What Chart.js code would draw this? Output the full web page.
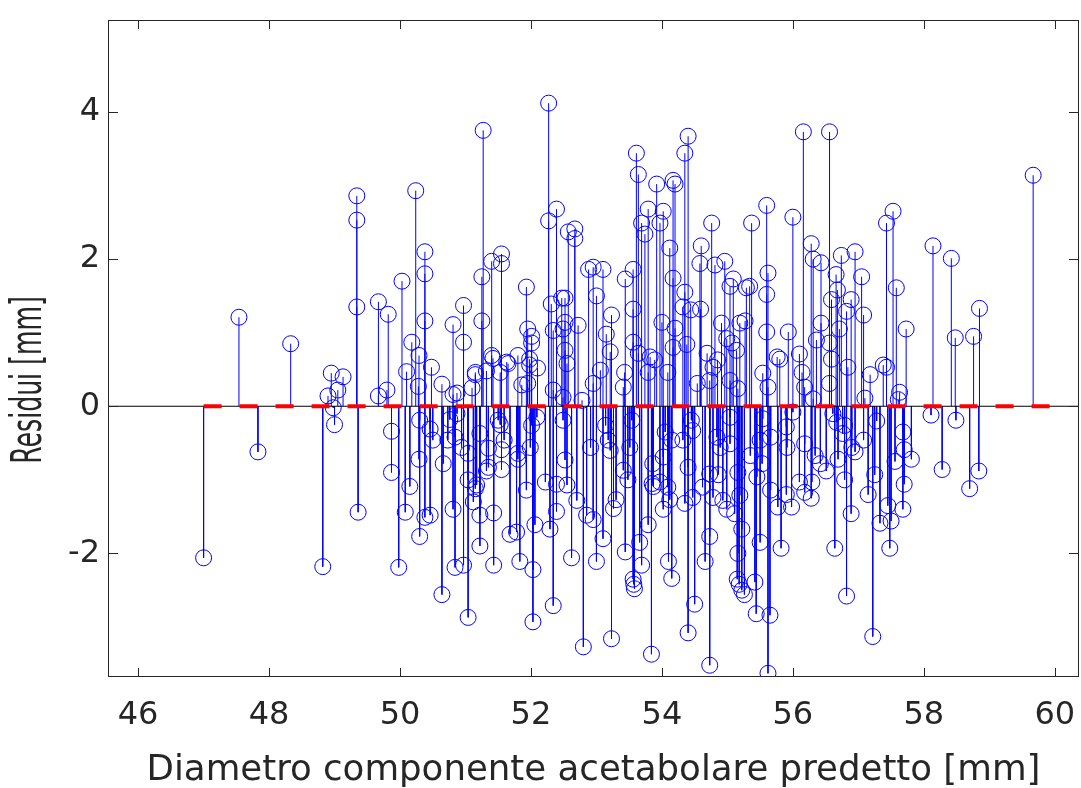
<!DOCTYPE html>
<html><head><meta charset="utf-8">
<script src="https://cdn.jsdelivr.net/npm/chart.js@4/dist/chart.umd.min.js"></script>
<style>html,body{margin:0;padding:0;background:#fff;}#wrap{width:1081px;height:788px;}</style>
</head><body><div id="wrap"><canvas id="c" width="1081" height="788"></canvas></div>
<script>
// ---- data ----
const predictedA = [47.00,47.54,47.83,48.33,48.82,48.90,48.95,48.98,49.00,49.05,49.13,49.34,49.34,49.34,49.36,49.67,49.67,49.80,49.82,49.87,49.87,49.98];
const residualsA = [-2.06,1.21,-0.62,0.85,-2.18,0.14,0.45,-0.02,-0.25,0.22,0.40,2.86,2.53,1.35,-1.44,1.42,0.14,0.22,1.25,-0.34,-0.90,-2.19];
const predictedB = [50.03,50.08,50.10,50.15,50.18,50.24,50.28,50.29,50.30,50.29,50.30,50.38,50.38,50.38,50.38,50.46,50.48,50.46,50.50,50.64,50.64,50.66,50.76,50.73,50.81,50.81,50.81,50.84,50.87,50.87,50.84,50.94,50.97,50.97,50.97];
const residualsB = [1.70,-1.44,0.47,-1.09,0.87,2.93,0.27,0.69,-0.19,-0.72,-1.77,2.10,1.80,1.16,-1.51,-1.48,0.53,-0.31,-0.46,-2.56,0.30,-0.78,-0.18,-0.46,1.11,0.16,-1.40,-2.19,0.18,-0.10,-0.42,-0.56,1.37,0.87,-2.16];
const predictedC = [51.04,51.15,51.10,51.04,51.04,51.15,51.12,51.22,51.22,51.27,51.25,51.25,51.32,51.40,51.40,51.55,51.55,51.43,51.43,51.32,51.55,51.55,51.53,51.68,51.65,51.80,51.78,51.83,51.80,51.93,51.95,51.98,51.93,51.15,51.42,51.53,51.63,51.86,51.22,51.35,51.50,51.59,51.80,51.99,51.35,51.17,51.98,51.95];
const residualsC = [-2.87,0.43,0.25,-0.64,-1.00,-1.12,-1.30,-1.48,-1.90,3.75,1.76,1.16,0.48,0.69,1.97,2.07,1.94,-1.45,-2.16,-0.88,-0.59,-0.86,-0.25,-1.74,0.58,0.69,-1.71,-2.11,-0.72,1.62,1.05,0.64,-1.14,0.46,0.65,0.46,0.60,0.29,-0.37,-0.57,-0.19,-0.46,-0.64,-0.56,-0.83,-1.07,0.56,0.31];
const predictedD = [52.01,52.03,52.03,52.06,52.27,52.27,52.39,52.31,52.34,52.29,52.39,52.39,52.47,52.52,52.49,52.57,52.01,52.10,52.34,52.49,52.52,52.55,52.34,52.52,52.09,52.01,52.49,52.52,52.22,52.55,52.67,52.67,52.62,52.80,52.88,52.95,52.95,52.72,52.95,52.78,52.91,52.85,52.70];
const residualsD = [0.95,-2.22,-2.93,-1.61,4.12,2.52,2.68,1.39,-2.71,-1.67,-1.43,-1.06,1.47,1.47,1.05,2.37,0.86,0.52,0.22,0.12,0.76,0.58,1.03,1.14,-0.15,-0.26,-0.19,-0.73,-1.03,-1.07,2.41,2.28,-2.06,-3.27,1.86,1.89,-1.54,1.10,0.31,0.08,-0.56,-1.48,-1.28];
const predictedE = [53.10,53.00,53.00,53.10,53.23,53.23,53.15,53.30,53.44,53.44,53.56,53.56,53.61,53.64,53.69,53.79,53.74,53.92,53.97,53.56,53.57,53.58,53.66,53.69,53.84,53.79,53.87,53.97,53.21,53.56,53.64,53.82,53.89,53.43,53.06,53.41,53.79,53.14,53.54,53.18,53.51,53.21,53.86,53.41,53.48,53.85,53.26];
const residualsE = [1.86,1.50,-2.11,-1.80,-3.16,1.24,0.98,-1.27,-1.98,1.73,1.86,1.32,3.44,3.15,2.49,2.68,2.34,3.02,2.49,-2.35,-2.42,-2.48,-1.85,-2.16,-3.37,-1.61,-1.09,-1.03,0.74,0.87,0.72,0.67,0.63,0.46,0.49,0.26,0.46,-0.26,-0.19,-0.46,-0.56,-0.60,-0.78,-0.87,-1.00,-1.05,-1.39];
const predictedF = [54.02,54.12,54.17,54.20,54.10,54.15,54.12,54.02,54.17,54.09,54.00,54.05,54.15,54.02,54.09,54.17,54.20,54.40,54.35,54.35,54.32,54.59,54.38,54.40,54.50,54.73,54.76,54.60,54.58,54.81,54.96,54.91,54.73,54.66,54.99,54.86,54.44,54.99,54.69,54.85,54.78,54.54,54.73,54.45,54.47,54.32,54.84,54.89,54.40,54.73,54.62,54.47,54.78,54.93,54.35];
const residualsF = [2.65,2.15,3.07,3.02,-2.11,-2.34,-1.27,-1.40,0.80,0.46,1.14,-0.35,-0.46,-0.69,-1.10,1.74,1.06,3.67,3.44,1.55,1.35,1.32,0.84,-3.08,-2.69,-3.52,2.49,2.18,1.94,1.92,1.97,1.13,-1.77,-2.11,-1.40,-0.93,1.31,0.92,0.72,0.63,0.53,0.31,0.35,-0.19,-0.33,-0.46,-0.42,-0.56,-0.83,-0.92,-1.10,-1.24,-1.24,-1.28,-1.32];
const predictedG = [55.09,55.04,55.29,55.34,55.19,55.27,55.37,55.60,55.62,55.60,55.60,55.80,55.93,55.15,55.18,55.22,55.26,55.44,55.62,55.65,55.50,55.42,55.82,55.77,55.22,55.11,55.07,55.14,55.04,55.16,55.54,55.76,55.62,55.04,55.04,55.35,55.50,55.66,55.54,55.53,55.45,55.16,55.19,55.66,55.98,55.90,55.90,55.91,55.16];
const residualsG = [1.73,1.63,1.61,1.63,1.13,1.16,2.49,2.73,1.81,1.52,1.01,0.64,1.01,-2.35,-2.42,-2.50,-2.56,-2.82,-3.63,-2.84,-1.85,-2.39,-1.93,-1.37,-1.67,-1.46,0.86,0.76,0.35,0.24,0.45,0.67,0.26,-0.15,-0.51,-0.67,-0.46,-0.42,-0.17,-0.78,-0.96,-0.90,-1.21,-1.14,-1.37,-1.20,-0.28,-0.56,-2.00];
const predictedH = [56.16,56.56,56.00,56.28,56.31,56.43,56.74,56.95,56.66,56.68,56.59,56.89,56.82,56.43,56.71,56.36,56.10,56.59,56.84,56.64,56.82,56.89,56.51,56.28,56.18,56.10,56.79,56.69,56.95,56.56,56.14,56.18,56.56,56.31,56.00,56.61,56.67,56.79,56.76,56.18,56.90,56.34,56.42,56.29];
const residualsH = [3.73,3.73,2.57,2.21,2.00,1.95,2.05,2.10,1.79,1.58,1.45,1.45,1.29,1.13,1.05,0.90,0.71,0.64,0.53,-1.93,-2.58,-1.46,-0.88,-1.25,-1.17,-1.03,-1.00,-0.72,-0.62,0.86,0.46,0.26,0.31,0.10,-0.08,-0.10,-0.22,-0.26,-0.37,-0.51,-0.56,-0.67,-0.78,-1.03];
const predictedI = [57.05,57.08,57.43,57.53,57.58,57.43,57.18,57.10,57.28,57.22,57.15,57.25,57.33,57.48,57.50,57.45,57.08,57.38,57.73,57.63,57.61,57.68,57.70,57.81,57.56,57.70,57.68,58.14,58.11,58.28,58.42,58.48,58.49,58.70,58.76,58.85,58.84,59.67];
const residualsI = [1.76,1.24,2.49,2.65,1.61,0.53,0.43,0.11,-0.20,-3.13,-1.20,-0.93,-1.59,-1.93,-1.56,-1.35,-0.46,0.56,1.05,0.19,0.09,-0.35,-0.59,-0.72,-0.75,-1.06,-1.40,2.18,-0.12,-0.86,2.01,0.93,-0.19,-1.12,0.95,1.33,-0.88,3.14];

const xTickValues = [46,48,50,52,54,56,58,60];
const yTickValues = [-2,0,2,4];
const xLimits = [45.54,60.37];
const yLimits = [-3.68,5.25];
const referenceLineX = [47,60];   // red dashed zero line
const xLabel = 'Diametro componente acetabolare predetto [mm]';
const yLabel = 'Residui [mm]';

// ---- build datasets ----
const predicted = [].concat(predictedA,predictedB,predictedC,predictedD,predictedE,predictedF,predictedG,predictedH,predictedI);
const residuals = [].concat(residualsA,residualsB,residualsC,residualsD,residualsE,residualsF,residualsG,residualsH,residualsI);
const markers = predicted.map((x,i)=>({x:x,y:residuals[i]}));
const stems = [];
predicted.forEach((x,i)=>{ stems.push({x:x,y:0},{x:x,y:residuals[i]},{x:x,y:null}); });

const AX = '#262626';
const FONT = 'DejaVu Sans';

const frame = {
  id:'frame',
  afterDraw(chart){
    const {ctx, chartArea:a, scales:{x,y}} = chart;
    ctx.save();
    ctx.strokeStyle = AX; ctx.lineWidth = 1;
    ctx.strokeRect(a.left+0.5, a.top+0.5, a.right-a.left-1, a.bottom-a.top-1);
    ctx.beginPath();
    x.ticks.forEach(t=>{const p=Math.round(x.getPixelForValue(t.value))+0.5;
      ctx.moveTo(p,a.bottom); ctx.lineTo(p,a.bottom-9); ctx.moveTo(p,a.top); ctx.lineTo(p,a.top+9);});
    y.ticks.forEach(t=>{const p=Math.round(y.getPixelForValue(t.value))+0.5;
      ctx.moveTo(a.left,p); ctx.lineTo(a.left+10,p); ctx.moveTo(a.right,p); ctx.lineTo(a.right-10,p);});
    ctx.stroke();
    // y-axis label (compressed along its direction, as in the reference)
    ctx.fillStyle = AX;
    ctx.font = '35px "' + FONT + '"';
    ctx.textAlign = 'center'; ctx.textBaseline = 'middle';
    ctx.translate(30, 380);
    ctx.rotate(-Math.PI/2);
    ctx.scale(0.72, 1.2);
    ctx.fillText(yLabel, 0, 0);
    ctx.restore();
  }
};

new Chart(document.getElementById('c'), {
  type:'scatter',
  data:{datasets:[
    {label:'ref', type:'line', data:referenceLineX.map(v=>({x:v,y:0})), borderColor:'#ff0000', borderWidth:4,
     borderDash:[18,18], pointRadius:0, fill:false, order:0},
    {label:'baseline', type:'line', data:xLimits.map(v=>({x:v,y:0})), borderColor:'#000000', borderWidth:1,
     pointRadius:0, fill:false, order:1},
    {label:'markers', data:markers, showLine:false, pointRadius:8, pointHoverRadius:8, pointBorderWidth:1,
     pointBorderColor:'#0000ff', pointBackgroundColor:'rgba(0,0,0,0)', order:2},
    {label:'stems', type:'line', data:stems, showLine:true, spanGaps:false, borderColor:'#0000ff', borderWidth:1,
     pointRadius:0, fill:false, order:3}
  ]},
  options:{
    responsive:false, animation:false, devicePixelRatio:1,
    layout:{autoPadding:false, padding:{top:20,right:2,left:0,bottom:0}},
    plugins:{legend:{display:false}, tooltip:{enabled:false}},
    scales:{
      x:{type:'linear', min:xLimits[0], max:xLimits[1],
         afterBuildTicks:s=>{s.ticks = xTickValues.map(v=>({value:v}));},
         afterFit:s=>{s.height = 111; s.paddingLeft = 0; s.paddingRight = 0;},
         grid:{display:false, drawTicks:false}, border:{display:false},
         ticks:{font:{family:FONT,size:32}, color:AX, padding:19, maxRotation:0, autoSkip:false},
         title:{display:true, text:xLabel, color:AX, font:{family:FONT,size:35.6}, padding:{top:0,bottom:-4}}},
      y:{type:'linear', min:yLimits[0], max:yLimits[1],
         afterBuildTicks:s=>{s.ticks = yTickValues.map(v=>({value:v}));},
         afterFit:s=>{s.width = 108; s.paddingTop = 0; s.paddingBottom = 0;},
         grid:{display:false, drawTicks:false}, border:{display:false},
         ticks:{font:{family:FONT,size:32}, color:AX, padding:8},
         title:{display:false}}
    }
  },
  plugins:[frame]
});
</script></body></html>
